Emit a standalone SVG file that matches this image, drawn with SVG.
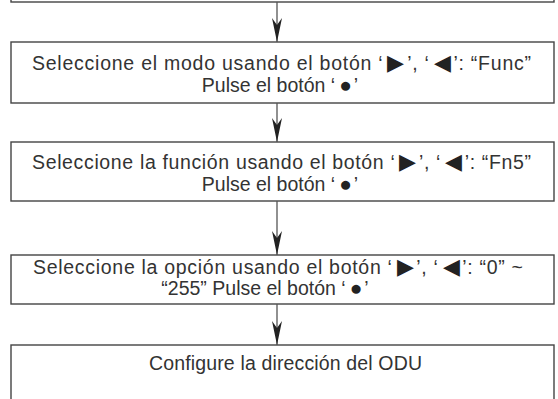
<svg xmlns="http://www.w3.org/2000/svg" width="558" height="399" viewBox="0 0 558 399">
<style>
.box{fill:#fff;stroke:#444;stroke-width:1.4}
.t{font-family:"Liberation Sans",Arial,sans-serif;font-size:19.5px;fill:#333}
.m{text-anchor:middle}
.g{font-size:22px;fill:#222}
.b{font-size:21px;fill:#222}
.c{stroke:#555;stroke-width:1.3;fill:none}
</style>
<defs>
<marker id="ah" viewBox="0 0 24 10" refX="24" refY="5" markerWidth="24" markerHeight="10" markerUnits="userSpaceOnUse" orient="auto">
<path d="M0,0 L24,5 L0,10 L7,5 Z" fill="#222"/>
</marker>
</defs>
<g id="n1"><rect class="box" x="11" y="-10" width="543" height="12"/></g>
<g id="n2"><rect class="box" x="11" y="42" width="543" height="61"/>
<text class="t" x="32" y="70" textLength="499" lengthAdjust="spacing">Seleccione el modo usando el botón ‘<tspan class="g" dx="4">▶</tspan><tspan dx="2">’, ‘</tspan><tspan class="g" dx="4">◀</tspan><tspan dx="2">’: “Func”</tspan></text>
<text class="t m" x="280" y="92">Pulse el botón ‘<tspan class="b" dx="4">●</tspan><tspan dx="2">’</tspan></text></g>
<g id="n3"><rect class="box" x="11" y="142" width="543" height="59"/>
<text class="t" x="32" y="169" textLength="499" lengthAdjust="spacing">Seleccione la función usando el botón ‘<tspan class="g" dx="4">▶</tspan><tspan dx="2">’, ‘</tspan><tspan class="g" dx="4">◀</tspan><tspan dx="2">’: “Fn5”</tspan></text>
<text class="t m" x="280" y="191">Pulse el botón ‘<tspan class="b" dx="4">●</tspan><tspan dx="2">’</tspan></text></g>
<g id="n4"><rect class="box" x="11" y="255" width="543" height="49"/>
<text class="t" x="33" y="274" textLength="490" lengthAdjust="spacing">Seleccione la opción usando el botón ‘<tspan class="g" dx="4">▶</tspan><tspan dx="2">’, ‘</tspan><tspan class="g" dx="4">◀</tspan><tspan dx="2">’: “0” ~</tspan></text>
<text class="t m" x="265" y="295">“255” Pulse el botón ‘<tspan class="b" dx="4">●</tspan><tspan dx="2">’</tspan></text></g>
<g id="n5"><rect class="box" x="11" y="345" width="543" height="60"/>
<text class="t" x="149" y="370" textLength="273" lengthAdjust="spacing">Configure la dirección del ODU</text></g>
<g id="connectors">
<line class="c" x1="277" y1="2" x2="277" y2="42" marker-end="url(#ah)"/>
<line class="c" x1="277" y1="103" x2="277" y2="142" marker-end="url(#ah)"/>
<line class="c" x1="277" y1="201" x2="277" y2="255" marker-end="url(#ah)"/>
<line class="c" x1="277" y1="304" x2="277" y2="345" marker-end="url(#ah)"/>
</g>
</svg>
